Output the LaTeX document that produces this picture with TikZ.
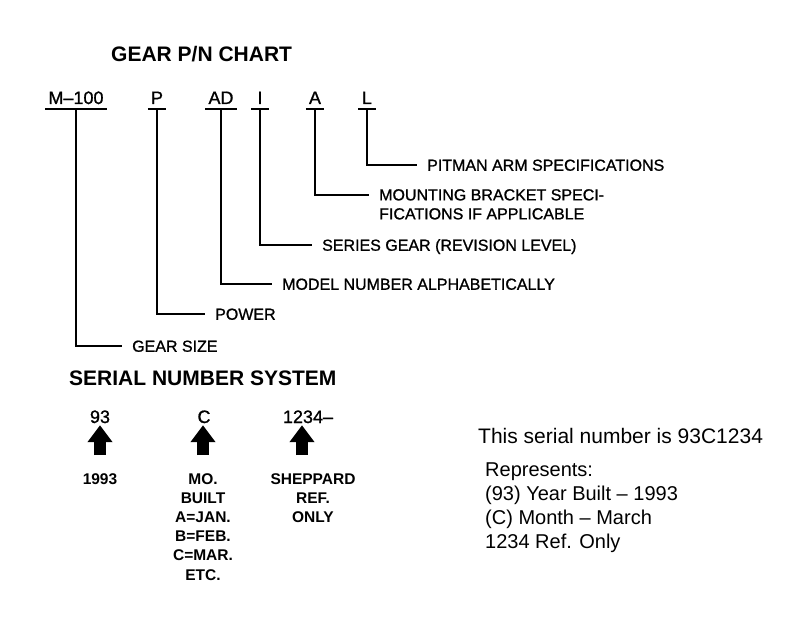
\documentclass[tikz,border=0pt]{standalone}
\usepackage{fontspec}
\setmainfont{Liberation Sans}
\newfontfamily\medfont[Ligatures=TeX, FakeBold=1]{Liberation Sans}
\usepackage{tikz}
\usetikzlibrary{arrows.meta, positioning}

\tikzset{
  title/.style={anchor=base west, inner sep=0pt, font=\bfseries\fontsize{21}{24}\selectfont},
  code/.style={anchor=base, inner xsep=3pt, inner ysep=5pt, text depth=0pt,
    minimum width=17pt, font=\medfont\fontsize{18}{20}\selectfont},
  lbl/.style={inner sep=2pt, font=\medfont\fontsize{16}{19}\selectfont},
  oneline/.style={anchor=west, text height=11.5pt, text depth=0pt},
  lead/.style={line width=2pt, shorten >=8pt},
  uline/.style={line width=2.3pt},
  snum/.style={anchor=base, inner sep=2pt, text depth=0pt, font=\medfont\fontsize{18}{20}\selectfont},
  sdesc/.style={anchor=north, align=center, inner sep=2pt, font=\bfseries\fontsize{15.5}{19.2}\selectfont},
  blk/.style={line width=12pt, -{Triangle[length=17pt, width=24pt]}, shorten <=16pt},
  note/.style={inner sep=2pt, font=\fontsize{20}{23.7}\selectfont}
}

\begin{document}
\begin{tikzpicture}[x=1pt, y=-1pt, >=latex]
    \useasboundingbox (0,0) rectangle (800,623);
    \fill[white] (0,0) rectangle (800,623);

    % Part number
    \node[title] (chart) at (111,62) {GEAR P/N CHART};
    \node[code] (m100) at (76,104) {M--100};
    \node[code] (p) at (157,104) {P};
    \node[code] (ad) at (221,104) {AD};
    \node[code] (i) at (260,104) {I};
    \node[code] (a) at (315,104) {A};
    \node[code] (l) at (367,104) {L};
    \foreach \c in {m100, p, ad, i, a, l}
        \draw[uline] (\c.south west) -- (\c.south east);

    % Meanings
    \node[lbl, oneline] (pitman) at (425,165) {PITMAN ARM SPECIFICATIONS};
    \node[lbl, anchor=north west, align=left] (bracket) at (377,187)
        {MOUNTING BRACKET SPECI-\\FICATIONS IF APPLICABLE};
    \node[lbl, oneline] (series) at (320,245) {SERIES GEAR (REVISION LEVEL)};
    \node[lbl, oneline] (model) at (280,284) {MODEL NUMBER ALPHABETICALLY};
    \node[lbl, oneline] (power) at (213,314) {POWER};
    \node[lbl, oneline] (size) at (130,346) {GEAR SIZE};

    \draw[lead] (l.south) |- (pitman.west);
    \draw[lead] (a.south) |- ([yshift=-7.75pt]bracket.north west);
    \draw[lead] (i.south) |- (series.west);
    \draw[lead] (ad.south) |- (model.west);
    \draw[lead] (p.south) |- (power.west);
    \draw[lead] (m100.south) |- (size.west);

    % Serial number
    \node[title] (serial) at (69,385) {SERIAL NUMBER SYSTEM};
    \node[snum] (n93) at (100,423) {93};
    \node[snum] (nc) at (204,423) {C};
    \node[snum] (n1234) at (308,423) {1234--};

    \node[sdesc] (year) at (100,471) {1993};
    \node[sdesc] (month) at (203,471) {MO.\\BUILT\\A=JAN.\\B=FEB.\\C=MAR.\\ETC.};
    \node[sdesc] (ref) at (313,471) {SHEPPARD\\REF.\\ONLY};

    \draw[blk] (year.north) -- (year.north |- n93.south);
    \draw[blk] (month.north) -- (month.north |- nc.south);
    \draw[blk] ([xshift=-11pt]ref.north) -- ([xshift=-11pt]ref.north |- n1234.south);

    % Example
    \node[note, anchor=west, text height=15pt, text depth=0pt, font=\fontsize{21}{24}\selectfont]
        (example) at (476,436) {This serial number is 93C1234};
    \node[note, anchor=north west, align=left] (meaning) at (483,461)
        {Represents:\\(93) Year Built -- 1993\\(C) Month -- March\\1234 Ref. Only};
\end{tikzpicture}
\end{document}
